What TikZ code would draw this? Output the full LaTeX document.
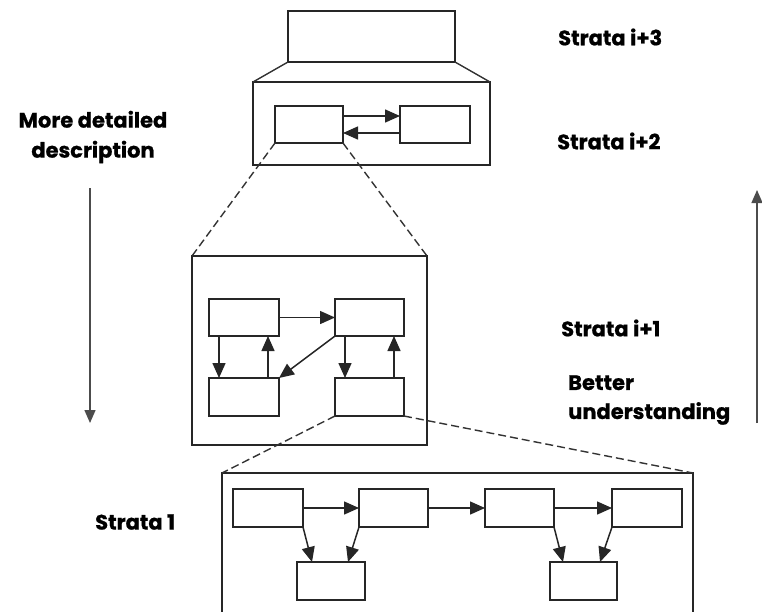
\documentclass[tikz,border=0pt]{standalone}
\usepackage{fontspec}
\setmainfont{Poppins}[BoldFeatures={FakeBold=0.8}]
\usetikzlibrary{arrows.meta}
\begin{document}
\begin{tikzpicture}[x=1pt,y=-1pt,
  box/.style={draw=black!85,line width=1.8pt,minimum width=#1,inner sep=0pt,outer sep=0pt},
  box/.default=70pt,
  lvl/.style={draw=black!85,line width=1.8pt,inner sep=0pt,outer sep=0pt},
  link/.style={line width=1.5pt,draw=black!85,-{Triangle[length=15pt,width=13pt]}},
  side/.style={line width=1.4pt,draw=black!70,-{Triangle[length=13pt,width=11pt]}},
  zoomline/.style={line width=1.4pt,draw=black!80,dash pattern=on 8pt off 4pt},
  solidzoom/.style={line width=1.4pt,draw=black!80},
  lbl/.style={font=\bfseries\fontsize{21}{25}\selectfont,inner sep=0pt,anchor=west,align=left},
]
\useasboundingbox (0,0) rectangle (762,611);
\clip (0,0) rectangle (762,611);
% level boxes
\node[lvl,minimum width=167pt,minimum height=51pt] (s3) at (371.5,36.5) {};
\node[lvl,minimum width=237pt,minimum height=83pt] (s2) at (371.5,123.5) {};
\node[lvl,minimum width=235pt,minimum height=189pt] (s1) at (309.5,350.5) {};
\node[lvl,minimum width=471pt,minimum height=167pt] (s0) at (457.5,556.5) {};
% strata i+2 inner
\node[box=68pt,minimum height=37pt] (aL) at (309,124.5) {};
\node[box=70pt,minimum height=37pt] (aR) at (435,124.5) {};
% strata i+1 inner
\node[box=70pt,minimum height=37pt] (mTL) at (244,317.5) {};
\node[box=69pt,minimum height=37pt] (mTR) at (369.5,317.5) {};
\node[box=70pt,minimum height=38pt] (mBL) at (244,397) {};
\node[box=69pt,minimum height=38pt] (mBR) at (369.5,397) {};
% strata 1 inner
\node[box=70pt,minimum height=38pt] (b1) at (268,508) {};
\node[box=69pt,minimum height=38pt] (b2) at (393.5,508) {};
\node[box=69pt,minimum height=38pt] (b3) at (519.5,508) {};
\node[box=70pt,minimum height=38pt] (b4) at (647,508) {};
\node[box=68pt,minimum height=38pt] (b5) at (331,581) {};
\node[box=67pt,minimum height=38pt] (b6) at (583.5,581) {};
% zoom lines
\draw[solidzoom] (s3.south west) -- (s2.north west);
\draw[solidzoom] (s3.south east) -- (s2.north east);
\draw[zoomline] (aL.south west) -- (s1.north west);
\draw[zoomline] (aL.south east) -- (s1.north east);
\draw[zoomline] (mBR.south west) -- (s0.north west);
\draw[zoomline] (mBR.south east) -- (s0.north east);
% arrows i+2
\draw[link] ([yshift=8.5pt]aL.east) -- ([yshift=8.5pt]aR.west);
\draw[link] ([yshift=-8.5pt]aR.west) -- ([yshift=-8.5pt]aL.east);
% arrows i+1
\draw[link] (mTL.east) -- (mTR.west);
\draw[link] ([xshift=-25pt]mTL.south) -- ([xshift=-25pt]mBL.north);
\draw[link] ([xshift=24pt]mBL.north) -- ([xshift=24pt]mTL.south);
\draw[link] (mTR.south west) -- (mBL.north east);
\draw[link] ([xshift=-24.5pt]mTR.south) -- ([xshift=-24.5pt]mBR.north);
\draw[link] ([xshift=24.5pt]mBR.north) -- ([xshift=24.5pt]mTR.south);
% arrows strata 1
\draw[link] (b1.east) -- (b2.west);
\draw[link] (b2.east) -- (b3.west);
\draw[link] (b3.east) -- (b4.west);
\draw[link] (b1.south east) -- ([xshift=-19pt]b5.north);
\draw[link] (b2.south west) -- ([xshift=17pt]b5.north);
\draw[link] (b3.south east) -- ([xshift=-20.5pt]b6.north);
\draw[link] (b4.south west) -- ([xshift=16.5pt]b6.north);
% side arrows
\coordinate (dTop) at (90,188);
\coordinate (dBot) at (90,423);
\coordinate (uBot) at (757,423);
\coordinate (uTop) at (757,190);
\draw[side] (dTop) -- (dBot);
\draw[side] (uBot) -- (uTop);
% labels
\node[lbl] (t3) at (558,37) {Strata i+3};
\node[lbl] (t2) at (557,141) {Strata i+2};
\node[lbl] (t1) at (561,328) {Strata i+1};
\node[lbl] (t0) at (95,522) {Strata 1};
\node[lbl,anchor=center,align=center,font=\bfseries\fontsize{21}{30}\selectfont] (md) at (93,137) {More detailed\\description};
\node[lbl,font=\bfseries\fontsize{21}{29}\selectfont] (bu) at (568,400) {Better\\understanding};
\end{tikzpicture}
\end{document}
